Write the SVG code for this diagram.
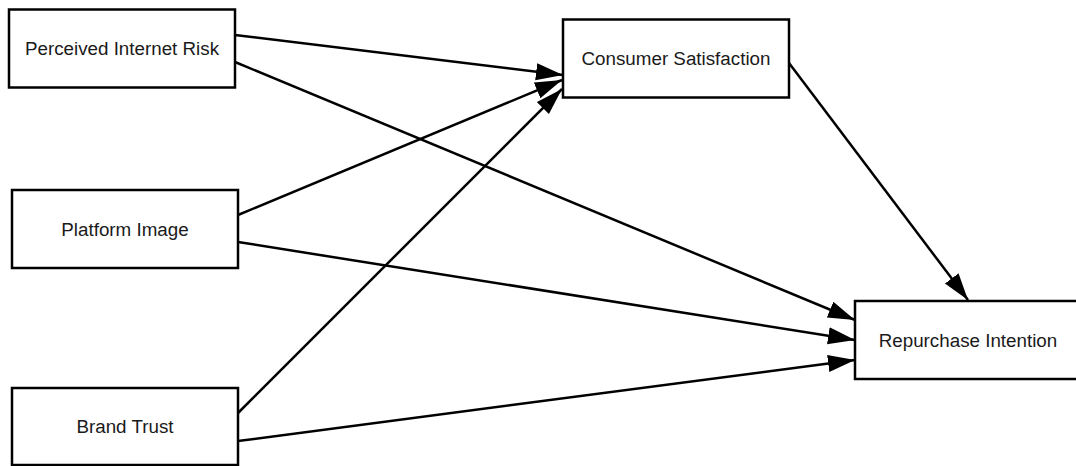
<svg xmlns="http://www.w3.org/2000/svg" width="1076" height="466" viewBox="0 0 1076 466">
<style>
.box{fill:#fff;stroke:#000;stroke-width:2.5}
.lbl{font-family:"Liberation Sans",Arial,sans-serif;font-size:18.8px;fill:#1a1a1a;text-anchor:middle}
.edge{stroke:#000;stroke-width:2.5;fill:none;marker-end:url(#ah)}
</style>
<defs>
<marker id="ah" markerUnits="userSpaceOnUse" markerWidth="30" markerHeight="20" refX="27" refY="8.5" orient="auto">
<path d="M0,0 L27,8.5 L0,17 z" fill="#000"/>
</marker>
</defs>
<rect width="1076" height="466" fill="#fff"/>
<g id="connectors">
<line class="edge" x1="235" y1="35" x2="563" y2="75"/>
<line class="edge" x1="235" y1="62" x2="855" y2="320"/>
<line class="edge" x1="238" y1="215" x2="562" y2="80"/>
<line class="edge" x1="238" y1="242" x2="855" y2="340"/>
<line class="edge" x1="238" y1="413" x2="562" y2="89"/>
<line class="edge" x1="238" y1="441" x2="855" y2="360"/>
<line class="edge" x1="789" y1="63" x2="968" y2="300"/>
</g>
<g id="node-pir">
<rect class="box" x="9" y="9.5" width="226" height="78"/>
<text class="lbl" x="122" y="55">Perceived Internet Risk</text>
</g>
<g id="node-pi">
<rect class="box" x="12" y="190" width="226" height="78"/>
<text class="lbl" x="125" y="236">Platform Image</text>
</g>
<g id="node-bt">
<rect class="box" x="12" y="388" width="226" height="77"/>
<text class="lbl" x="125" y="433">Brand Trust</text>
</g>
<g id="node-cs">
<rect class="box" x="563" y="19.5" width="226" height="78"/>
<text class="lbl" x="676" y="65">Consumer Satisfaction</text>
</g>
<g id="node-ri">
<rect class="box" x="855" y="301" width="226" height="78"/>
<text class="lbl" x="968" y="347">Repurchase Intention</text>
</g>
</svg>
